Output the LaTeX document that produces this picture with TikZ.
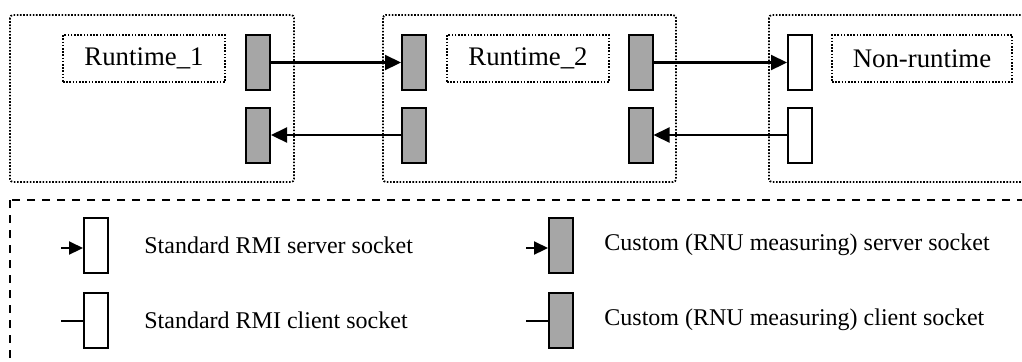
\documentclass[tikz,border=0pt]{standalone}
\usepackage{fontspec}
\setmainfont{Liberation Serif}
\usetikzlibrary{arrows.meta}
\begin{document}
\begin{tikzpicture}[x=0.5pt,y=-0.5pt,
  container/.style={draw, line width=0.9pt, dash pattern=on 0.8pt off 0.8pt, rounded corners=1.5pt},
  namebox/.style={draw, line width=0.9pt, dash pattern=on 0.8pt off 0.8pt, minimum height=23.5pt,
    inner sep=0pt, font=\fontsize{13.4}{15}\selectfont},
  custom/.style={draw, line width=1pt, fill=gray!70, minimum width=12pt, minimum height=27.5pt, inner sep=0pt},
  standard/.style={custom, fill=white},
  link/.style={line width=1.1pt, -{Triangle[length=8pt,width=7.5pt]}},
  keyarrow/.style={line width=1.1pt, -{Triangle[length=7pt,width=6.5pt]}},
  keyline/.style={line width=0.7pt},
  keytext/.style={anchor=west, inner sep=0pt, font=\fontsize{12}{14}\selectfont},
  legendframe/.style={draw, line width=0.7pt, dash pattern=on 4pt off 3.5pt}
]
\useasboundingbox (0,0) rectangle (1022,361);
\clip (0,0) rectangle (1022,361);

% process containers
\draw[container] (10,15) rectangle (294,182);
\draw[container] (383,15) rectangle (676,182);
\draw[container] (769,15) rectangle (1045,182);

% process names
\node[namebox, minimum width=81pt] (r1) at (144,58.5) {Runtime\_1};
\node[namebox, minimum width=81pt] (r2) at (528,58.5) {Runtime\_2};
\node[namebox, minimum width=90pt] (nr) at (922,58.5) {Non-runtime};

% sockets
\node[custom] (r1out) at (258,62.5) {};
\node[custom] (r1in)  at (258,135) {};
\node[custom] (r2a)   at (414,62.5) {};
\node[custom] (r2b)   at (414,135) {};
\node[custom] (r2c)   at (640.5,62.5) {};
\node[custom] (r2d)   at (640.5,135) {};
\node[standard] (nra) at (800,62.5) {};
\node[standard] (nrb) at (800,135) {};

% connections
\draw[link] (r1out.east) -- (r2a.west);
\draw[link] (r2b.west) -- (r1in.east);
\draw[link] (r2c.east) -- (nra.west);
\draw[link] (nrb.west) -- (r2d.east);

% legend
\draw[legendframe] (10,200) rectangle (1045,385);

\node[standard] (ks1) at (96,245.5) {};
\node[standard] (ks2) at (96,320.5) {};
\node[custom]   (kc1) at (561,245.5) {};
\node[custom]   (kc2) at (561,320.5) {};

\coordinate (t1) at (61,248);
\coordinate (t2) at (61,321);
\coordinate (t3) at (526,248);
\coordinate (t4) at (526,321);
\draw[keyarrow] (t1) -- (t1 -| ks1.west);
\draw[keyline]  (t2) -- (t2 -| ks2.west);
\draw[keyarrow] (t3) -- (t3 -| kc1.west);
\draw[keyline]  (t4) -- (t4 -| kc2.west);

\node[keytext] (l1) at (144,245) {Standard RMI server socket};
\node[keytext] (l2) at (144,320) {Standard RMI client socket};
\node[keytext] (l3) at (604,245) {Custom (RNU measuring) server socket};
\node[keytext] (l4) at (604,320) {Custom (RNU measuring) client socket};
\end{tikzpicture}
\end{document}
